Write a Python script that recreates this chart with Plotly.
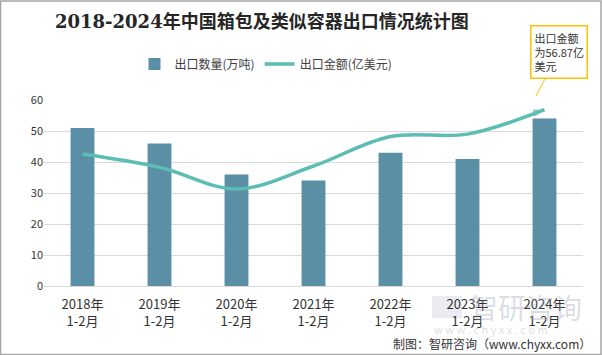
import plotly.graph_objects as go

categories = ["2018年<br>1-2月", "2019年<br>1-2月", "2020年<br>1-2月", "2021年<br>1-2月",
              "2022年<br>1-2月", "2023年<br>1-2月", "2024年<br>1-2月"]
volume = [51, 46, 36, 34, 43, 41, 54]           # 出口数量(万吨)
amount = [42.6, 38.3, 31.3, 38.7, 48.2, 49.0, 56.87]  # 出口金额(亿美元)
y_ticks = [0, 10, 20, 30, 40, 50, 60]

BAR = "#5B8FA5"
LINE = "#5BBDB3"
FONT = "Noto Sans CJK SC, Liberation Sans, sans-serif"

fig = go.Figure()
fig.add_trace(go.Bar(
    x=categories, y=volume, name="出口数量(万吨)",
    marker=dict(color=BAR, line=dict(width=0)), width=0.31,
))
n = len(amount)
fig.add_trace(go.Scatter(
    x=categories, y=amount, name="出口金额(亿美元)",
    mode="lines+markers",
    line=dict(color=LINE, width=3.5, shape="spline", smoothing=1),
    marker=dict(symbol=["circle"] + ["circle"] * (n - 2) + ["arrow"],
                size=[10] + [0] * (n - 2) + [12],
                angleref="previous", color=LINE, line=dict(width=0)),
))

fig.update_layout(
    width=602, height=355,
    margin=dict(l=44, r=19, t=100, b=69),
    paper_bgcolor="white", plot_bgcolor="white",
    font=dict(family=FONT, size=11, color="#333333"),
    showlegend=True,
    legend=dict(orientation="h", x=(266 - 44) / 539, xanchor="center", xref="paper",
                y=(286 - 64) / 186, yanchor="middle", font=dict(size=12, color="#404040"),
                itemwidth=30, traceorder="normal"),
    xaxis=dict(showgrid=False, showline=True, linecolor="#D9D9D9", linewidth=1,
               ticks="", ticklabelstandoff=6, tickfont=dict(size=13, color="#333333")),
    yaxis=dict(range=[0, 60], tickvals=y_ticks, showgrid=True, gridcolor="#D9D9D9",
               gridwidth=1, zeroline=False, showline=False, ticks="",
               tickfont=dict(size=11, color="#333333")),
)

# title
fig.add_annotation(
    text="<b>2018-2024年中国箱包及类似容器出口情况统计图</b>",
    xref="paper", yref="paper", x=(262 - 44) / 539, y=(286 - 22) / 186,
    xanchor="center", yanchor="middle", showarrow=False,
    font=dict(family="DejaVu Serif, Noto Sans CJK SC, serif", size=18, color="#262626"),
)

# callout
fig.add_annotation(
    text="出口金额<br>为56.87亿<br>美元",
    xref="paper", yref="paper", x=(536 - 44) / 539, y=(286 - 96) / 186,
    ax=23, ay=-44, axref="pixel", ayref="pixel",
    showarrow=True, arrowhead=0, arrowwidth=1, arrowcolor="#FFC000",
    bordercolor="#FFC000", borderwidth=1.5, borderpad=3, bgcolor="white",
    align="left", font=dict(size=11, color="#333333"),
)

# watermark
fig.add_shape(type="rect", xref="paper", yref="paper",
              x0=(432 - 44) / 539, x1=(462 - 44) / 539,
              y0=-(318 - 286) / 186, y1=-(296 - 286) / 186,
              line=dict(width=0), fillcolor="rgba(170,180,200,0.25)", layer="below")
fig.add_annotation(
    text="智研咨询", xref="paper", yref="paper",
    x=(468 - 44) / 539, y=-(307 - 286) / 186, xanchor="left", yanchor="middle",
    showarrow=False, font=dict(size=28, color="rgba(150,160,175,0.35)"),
)
fig.add_annotation(
    text="w w w . c h y x x . c o m", xref="paper", yref="paper",
    x=(432 - 44) / 539, y=-(329 - 286) / 186, xanchor="left", yanchor="middle",
    showarrow=False, font=dict(size=11, color="rgba(150,160,175,0.35)"),
)
# footer
fig.add_annotation(
    text="制图：智研咨询（www.chyxx.com）", xref="paper", yref="paper",
    x=1.0 + 10 / 539, y=-(343 - 286) / 186, xanchor="right", yanchor="middle",
    showarrow=False, font=dict(size=12, color="#333333"),
)

# outer frame
fig.add_shape(type="rect", xref="paper", yref="paper",
              x0=-44 / 539 + 0.001, x1=1 + 18 / 539, y0=-69 / 186 + 0.003, y1=1 + 99 / 186,
              line=dict(color="#A6A6A6", width=1.5), layer="above")

fig.write_html("out.html", config={"displayModeBar": False},
               post_script="document.body.style.margin='0';document.body.style.overflow='hidden';")
